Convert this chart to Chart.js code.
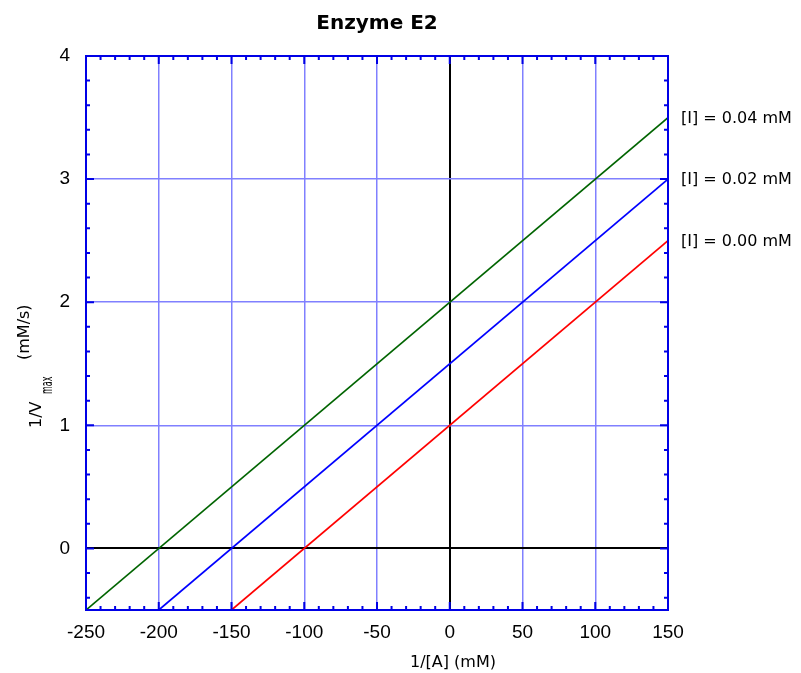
<!DOCTYPE html>
<html>
<head>
<meta charset="utf-8">
<script src="https://cdn.jsdelivr.net/npm/chart.js@4/dist/chart.umd.min.js"></script>
<style>
  body { margin: 0; background: #fff; }
</style>
</head>
<body>
<canvas id="myChart" width="801" height="673"></canvas>
<script>
(function () {
  "use strict";

  // tick labels
  var xTicks = [-250, -200, -150, -100, -50, 0, 50, 100, 150];
  var yTicks = [0, 1, 2, 3, 4];

  // one line per inhibitor concentration (endpoints of each fitted line)
  var seriesLabels = ["[I] = 0.00 mM", "[I] = 0.02 mM", "[I] = 0.04 mM"];
  var seriesColors = ["#ff0000", "#0000ff", "#006400"];
  var xI000 = [-150, 150];
  var yI000 = [-0.5, 2.5];
  var xI002 = [-200, 150];
  var yI002 = [-0.5, 3.0];
  var xI004 = [-250, 150];
  var yI004 = [-0.5, 3.5];

  var BLUE = "#0000e6";
  var GRID = "#8080ff";

  function pts(xs, ys) {
    return xs.map(function (x, i) { return { x: x, y: ys[i] }; });
  }

  // frame, inward ticks, titles and line labels
  var decor = {
    id: "decor",
    afterDatasetsDraw: function (chart) {
      var ctx = chart.ctx;
      var a = chart.chartArea;
      var xs = chart.scales.x;
      var ys = chart.scales.y;
      var v, p, len;

      ctx.save();
      ctx.strokeStyle = BLUE;
      ctx.lineWidth = 2;
      ctx.strokeRect(a.left, a.top, a.right - a.left, a.bottom - a.top);

      ctx.beginPath();
      for (v = xs.min; v <= xs.max; v += 10) {
        p = xs.getPixelForValue(v);
        len = v % 50 === 0 ? 8 : 4;
        ctx.moveTo(p, a.bottom); ctx.lineTo(p, a.bottom - len);
        ctx.moveTo(p, a.top); ctx.lineTo(p, a.top + len);
      }
      for (v = -4; v <= 40; v += 2) {
        p = ys.getPixelForValue(v / 10);
        len = v % 10 === 0 ? 8 : 4;
        ctx.moveTo(a.left, p); ctx.lineTo(a.left + len, p);
        ctx.moveTo(a.right, p); ctx.lineTo(a.right - len, p);
      }
      ctx.stroke();

      ctx.fillStyle = "#000";
      ctx.font = "bold 20px 'DejaVu Sans'";
      ctx.textAlign = "center";
      ctx.textBaseline = "alphabetic";
      ctx.fillText("Enzyme E2", (a.left + a.right) / 2, 29);

      ctx.font = "16px 'DejaVu Sans'";
      ctx.fillText("1/[A] (mM)", 453, 667);

      ctx.textAlign = "left";
      ctx.textBaseline = "middle";
      for (var i = 0; i < seriesLabels.length; i++) {
        var ds = chart.data.datasets[i].data;
        ctx.fillText(seriesLabels[i], a.right + 13, ys.getPixelForValue(ds[ds.length - 1].y) + 1);
      }

      // rotated y-axis title
      ctx.rotate(-Math.PI / 2);
      ctx.textBaseline = "alphabetic";
      ctx.font = "16px 'DejaVu Sans'";
      ctx.fillText("1/V", -428, 41);
      ctx.fillText("(mM/s)", -360, 29);
      ctx.save();
      ctx.scale(1, 2);
      ctx.font = "8px 'DejaVu Sans'";
      ctx.fillText("max", -394, 52 / 2);
      ctx.restore();
      ctx.restore();
    }
  };

  var ctx = document.getElementById("myChart");
  var myChart = new Chart(ctx, {
    type: "scatter",
    data: {
      datasets: [
        { label: seriesLabels[0], data: pts(xI000, yI000), borderColor: seriesColors[0] },
        { label: seriesLabels[1], data: pts(xI002, yI002), borderColor: seriesColors[1] },
        { label: seriesLabels[2], data: pts(xI004, yI004), borderColor: seriesColors[2] }
      ]
    },
    options: {
      responsive: false,
      animation: false,
      showLine: true,
      elements: {
        point: { radius: 0 },
        line: { borderWidth: 1.7 }
      },
      layout: { padding: { left: 0, right: 133, top: 56, bottom: 0 } },
      plugins: {
        legend: { display: false },
        tooltip: { enabled: false }
      },
      scales: {
        x: {
          type: "linear",
          min: -250,
          max: 150,
          afterBuildTicks: function (s) {
            s.ticks = xTicks.map(function (v) { return { value: v }; });
          },
          afterFit: function (s) { s.height = 63; },
          ticks: {
            color: "#000",
            padding: 11,
            maxRotation: 0,
            font: { family: "'Liberation Sans', Arial", size: 19 }
          },
          grid: {
            drawTicks: false,
            color: function (c) { return c.tick && c.tick.value === 0 ? "#000" : GRID; },
            lineWidth: function (c) { return c.tick && c.tick.value === 0 ? 2 : 1.5; }
          },
          border: { color: BLUE, width: 2 }
        },
        y: {
          type: "linear",
          min: -0.5,
          max: 4,
          afterBuildTicks: function (s) {
            s.ticks = yTicks.map(function (v) { return { value: v }; });
          },
          afterFit: function (s) { s.width = 86; },
          ticks: {
            color: "#000",
            padding: 16,
            font: { family: "'Liberation Sans', Arial", size: 19 }
          },
          grid: {
            drawTicks: false,
            color: function (c) { return c.tick && c.tick.value === 0 ? "#000" : GRID; },
            lineWidth: function (c) { return c.tick && c.tick.value === 0 ? 2 : 1.5; }
          },
          border: { color: BLUE, width: 2 }
        }
      }
    },
    plugins: [decor]
  });
})();
</script>
</body>
</html>
